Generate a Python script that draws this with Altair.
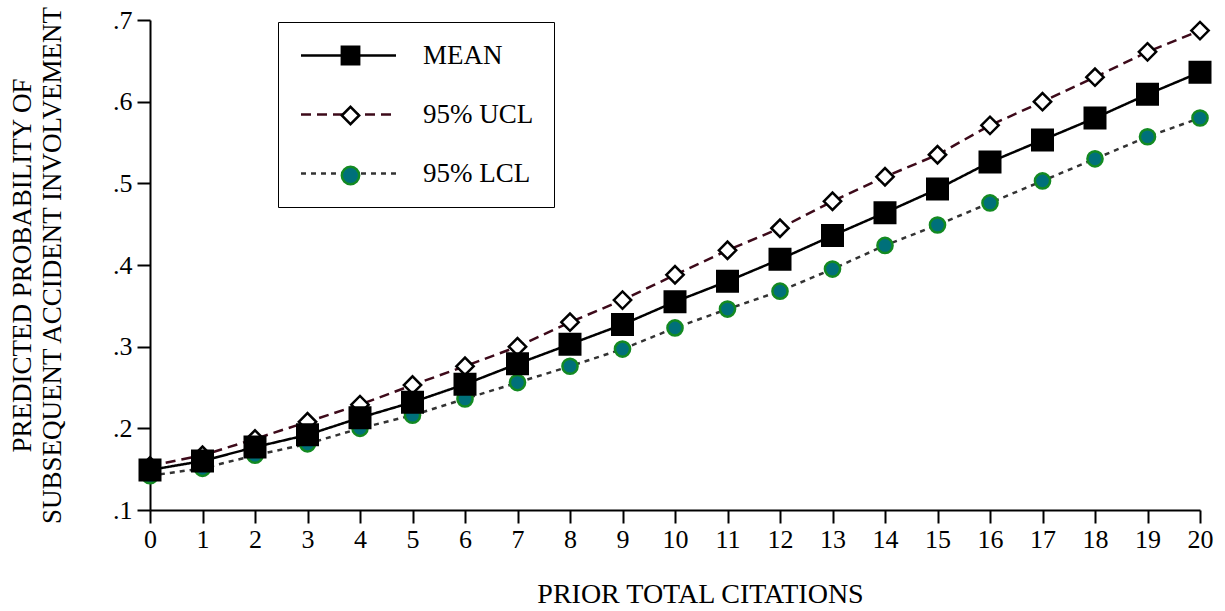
import altair as alt
import pandas as pd

x_vals = list(range(21))
mean_vals = [0.149, 0.160, 0.177, 0.192, 0.213, 0.232, 0.254, 0.279, 0.303, 0.327, 0.355,
             0.380, 0.407, 0.436, 0.464, 0.493, 0.526, 0.553, 0.580, 0.609, 0.636]
ucl_vals = [0.154, 0.167, 0.187, 0.208, 0.229, 0.253, 0.276, 0.300, 0.330, 0.357, 0.388,
            0.418, 0.445, 0.478, 0.508, 0.535, 0.571, 0.600, 0.630, 0.661, 0.687]
lcl_vals = [0.142, 0.151, 0.167, 0.181, 0.200, 0.216, 0.236, 0.256, 0.276, 0.297, 0.323,
            0.346, 0.368, 0.395, 0.424, 0.449, 0.476, 0.503, 0.530, 0.557, 0.580]
series_names = ["MEAN", "95% UCL", "95% LCL"]
y_ticks = [0.1, 0.2, 0.3, 0.4, 0.5, 0.6, 0.7]
x_title = "PRIOR TOTAL CITATIONS"
y_title = ["PREDICTED PROBABILITY OF", "SUBSEQUENT ACCIDENT INVOLVEMENT"]

rows = []
for i, (name, vals) in enumerate(zip(series_names, [mean_vals, ucl_vals, lcl_vals])):
    for xv, yv in zip(x_vals, vals):
        rows.append({"x": xv, "y": yv, "series": name, "mk": str(i + 1)})
df = pd.DataFrame(rows)

FONT = "Liberation Serif"

xenc = alt.X("x:Q", scale=alt.Scale(domain=[0, 20], nice=False, zero=False),
             axis=alt.Axis(values=x_vals, title=x_title, labelPadding=3, labelFlush=False,
                           titleX=550, titleY=70, titleBaseline="top", titleFontSize=28))
yenc = alt.Y("y:Q", scale=alt.Scale(domain=[0.1, 0.7], nice=False, zero=False),
             axis=alt.Axis(values=y_ticks, title=y_title, labelPadding=5, labelFlush=False,
                           labelExpr="replace(format(datum.value, '.1f'), '0.', '.')",
                           titleX=-114, titleY=245, titleLineHeight=30, titleFontSize=27))

leg1 = alt.Legend(orient="none", legendX=128, legendY=2, title=None,
                  strokeColor="black", padding=20, rowPadding=31,
                  labelFont=FONT, labelFontSize=27, labelColor="black",
                  labelOffset=61, symbolType="M-5,0H5", symbolSize=361,
                  symbolOffset=37, symbolStrokeWidth=2.5)
leg2 = alt.Legend(orient="top-left", offset=2, title=None,
                  padding=20, rowPadding=31,
                  labelFont=FONT, labelFontSize=27, labelExpr="''",
                  symbolSize=300, symbolOffset=165, symbolStrokeWidth=2.5)

lines = alt.Chart(df).mark_line(strokeWidth=2.5).encode(
    x=xenc, y=yenc,
    color=alt.Color("series:N", scale=alt.Scale(domain=series_names,
                    range=["#000000", "#3d0a1a", "#333333"]), legend=leg1),
    strokeDash=alt.StrokeDash("series:N", scale=alt.Scale(domain=series_names,
                              range=[[1, 0], [10, 6], [5, 5]]), legend=leg1),
)

shape_enc = alt.Shape("mk:N", scale=alt.Scale(range=["square", "diamond", "circle"]),
                      legend=leg2)
fill_enc = alt.Fill("mk:N", scale=alt.Scale(range=["#000000", "#ffffff", "#00707a"]),
                    legend=leg2)
stroke_enc = alt.Stroke("mk:N", scale=alt.Scale(range=["#000000", "#000000", "#138a22"]),
                        legend=leg2)

def pts(name, size):
    return alt.Chart(df).transform_filter(alt.datum.series == name).mark_point(
        filled=True, size=size, strokeWidth=2.5, opacity=1
    ).encode(x=xenc, y=yenc, shape=shape_enc, fill=fill_enc, stroke=stroke_enc)

chart = alt.layer(lines, pts("95% LCL", 230), pts("95% UCL", 300), pts("MEAN", 420)).properties(
    width=1050, height=490,
    padding={"left": 150, "top": 20, "right": 25, "bottom": 101},
    autosize=alt.AutoSizeParams(type="none"),
    background="white",
).configure_axis(
    domainColor="black", domainWidth=2, tickColor="black", tickWidth=2, tickSize=13,
    labelFont=FONT, labelFontSize=26, labelColor="black",
    titleFont=FONT, titleColor="black", titleFontWeight="normal",
    grid=False,
).configure_view(stroke=None)

chart.save("out.html", embed_options={"renderer": "svg", "actions": False})
